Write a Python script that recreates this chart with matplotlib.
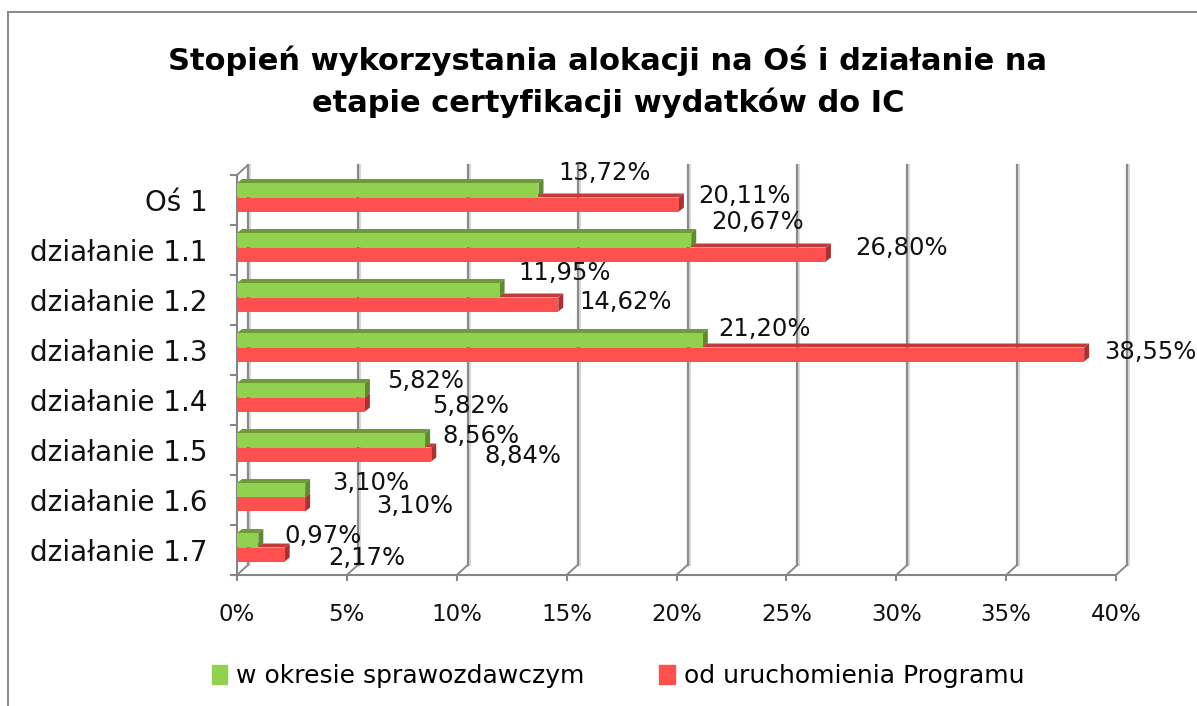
import numpy as np
import matplotlib
matplotlib.use("Agg")
from matplotlib import pyplot as plt
from matplotlib.lines import Line2D
from matplotlib.patches import Patch


categories = ["Oś 1", "działanie 1.1", "działanie 1.2", "działanie 1.3",
              "działanie 1.4", "działanie 1.5", "działanie 1.6", "działanie 1.7"]
w_okresie = [13.72, 20.67, 11.95, 21.20, 5.82, 8.56, 3.10, 0.97]
od_uruchomienia = [20.11, 26.80, 14.62, 38.55, 5.82, 8.84, 3.10, 2.17]
x_ticks = [0, 5, 10, 15, 20, 25, 30, 35, 40]
series_names = ["w okresie sprawozdawczym", "od uruchomienia Programu"]

# label offsets in pixels (dx, dy in image direction) - excel put them oddly
green_off = [(66, -17), (66, -18), (65, -17), (62, -11), (61, -9), (56, -4), (66, -7), (65, -4)]
red_off = [(66, -8), (76, -7), (67, -2), (66, -2), (106, 2), (92, 2), (110, 1), (82, 4)]

W, H = 1197, 706
fig = plt.figure(figsize=(W / 100, H / 100), dpi=100)
fig.patch.set_facecolor("white")
ax = fig.add_axes([237 / W, (H - 575) / H, 879 / W, 400 / H])
ax.set_xlim(0, 40)
ax.set_ylim(7.5, -0.5)

px_x = 40 / 879
px_y = 8 / 400
grid_c = "#8a8a8a"

# back wall gridlines with 3d offset
DX, DY = 11 * px_x, 10 * px_y
for t in x_ticks:
    ax.plot([t + DX + 2 * px_x] * 2, [7.5 - DY, -0.5 - DY], color="#d9d9d9", lw=1.5, clip_on=False, zorder=1)
    ax.plot([t + DX] * 2, [7.5 - DY, -0.5 - DY], color=grid_c, lw=1.6, clip_on=False, zorder=1)
    ax.plot([t, t + DX], [7.5, 7.5 - DY], color=grid_c, lw=1.4, clip_on=False, zorder=1)
ax.plot([0, DX], [-0.5, -0.5 - DY], color=grid_c, lw=1.4, clip_on=False, zorder=1)


def bar3d(y, v, h, face, top, side):
    bx, by = 5 * px_x, 4 * px_y
    y0, y1 = y - h / 2, y + h / 2
    ax.fill([0, v, v + bx, bx], [y0, y0, y0 - by, y0 - by], color=top, lw=0, zorder=3)
    ax.fill([v, v + bx, v + bx, v], [y0, y0 - by, y1 - by, y1], color=side, lw=0, zorder=3)
    ax.barh(y, v, height=h, color=face, lw=0, zorder=4)


pos = np.arange(len(categories))
h = 0.28
for i in pos:
    bar3d(i + 0.09, od_uruchomienia[i], h, "#ff5050", "#c23b3b", "#a83232")
    bar3d(i - 0.2, w_okresie[i], h, "#92d050", "#6e9a3a", "#5f8a30")


def fmt(v):
    return f"{v:.2f}".replace(".", ",") + "%"


for i in pos:
    ax.annotate(fmt(w_okresie[i]), xy=(w_okresie[i], i - 0.2),
                xytext=(green_off[i][0], -green_off[i][1]), textcoords="offset pixels",
                ha="center", va="center", fontsize=17.5, color="#111111", zorder=6,
                annotation_clip=False)
    ax.annotate(fmt(od_uruchomienia[i]), xy=(od_uruchomienia[i], i + 0.09),
                xytext=(red_off[i][0], -red_off[i][1]), textcoords="offset pixels",
                ha="center", va="center", fontsize=17.5, color="#111111", zorder=6,
                annotation_clip=False)

ax.set_yticks(pos)
ax.set_yticklabels(categories, fontsize=20, color="#111111")
ax.set_yticks(np.arange(-0.5, 8, 1), minor=True)
ax.tick_params(axis="y", which="major", length=0, pad=21)
ax.tick_params(axis="y", which="minor", length=5, width=1.5, color="#868686")

ax.set_xticks(x_ticks)
ax.set_xticklabels([f"{t}%" for t in x_ticks], fontsize=16.5, color="#111111")
ax.tick_params(axis="x", length=4, width=1.5, color="#868686", pad=16)

for s in ["top", "right"]:
    ax.spines[s].set_visible(False)
for s in ["left", "bottom"]:
    ax.spines[s].set_color("#868686")
    ax.spines[s].set_linewidth(1.5)
ax.set_facecolor("none")

fig.text(608 / W, 1 - 60 / H, "Stopień wykorzystania alokacji na Oś i działanie na",
         ha="center", va="center", fontsize=22, fontweight="bold")
fig.text(608 / W, 1 - 103 / H, "etapie certyfikacji wydatków do IC",
         ha="center", va="center", fontsize=22, fontweight="bold")

handles = [Patch(color="#92d050"), Patch(color="#ff5050")]
fig.legend(handles, series_names, loc="center", bbox_to_anchor=(618 / W, 1 - 676 / H),
           ncol=2, frameon=False, fontsize=18, handlelength=0.62, handleheight=0.8,
           handletextpad=0.35, columnspacing=3.0)

# chart border (only left and top visible)
fig.add_artist(Line2D([8 / W, 8 / W], [0, 1 - 12 / H], transform=fig.transFigure, color="#8c8c8c", lw=1.5))
fig.add_artist(Line2D([8 / W, 1], [1 - 12 / H, 1 - 12 / H], transform=fig.transFigure, color="#8c8c8c", lw=1.5))

fig.savefig("out.png", dpi=100)
